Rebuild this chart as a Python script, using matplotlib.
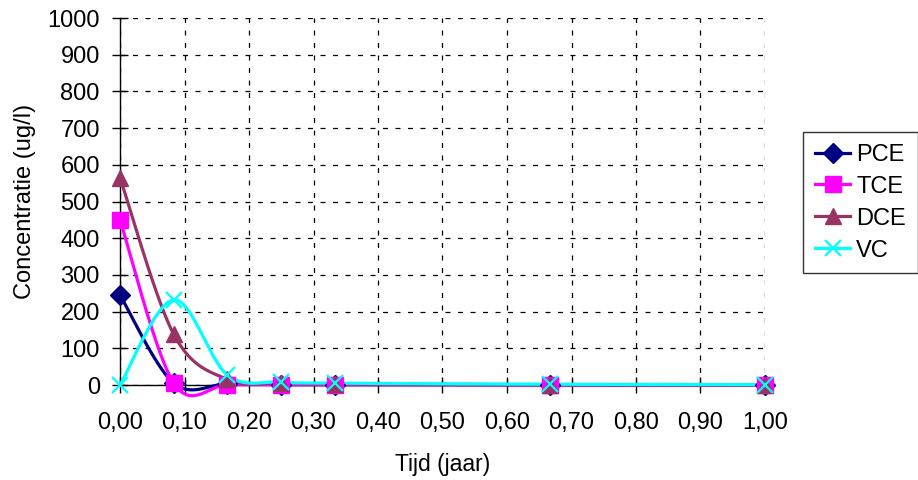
import numpy as np
import matplotlib
matplotlib.use("Agg")
import matplotlib.pyplot as plt
from matplotlib.lines import Line2D

plt.rcParams['font.family'] = ['Liberation Sans', 'DejaVu Sans']

tijd = [0.0, 1/12, 2/12, 3/12, 4/12, 8/12, 1.0]
pce = [245, 5, 3, 1, 1, 0, 0]
tce = [450, 5, 1, 1, 1, 0, 0]
dce = [565, 138, 15, 5, 3, 1, 1]
vc = [0, 232, 27, 8, 5, 2, 1]

series = [
    ("PCE", pce, "#000080", "D", 10),
    ("TCE", tce, "#FF00FF", "s", 11),
    ("DCE", dce, "#993366", "^", 12),
    ("VC", vc, "#00FFFF", "x", 12),
]

FS = 17


def smooth(x, y, n=40):
    x = np.asarray(x, float)
    y = np.asarray(y, float)
    px, py = [], []
    m = len(x)
    for i in range(m - 1):
        x0, y0 = x[max(i - 1, 0)], y[max(i - 1, 0)]
        x1, y1 = x[i], y[i]
        x2, y2 = x[i + 1], y[i + 1]
        x3, y3 = x[min(i + 2, m - 1)], y[min(i + 2, m - 1)]
        c1x = x1 + (x2 - x0) / 6
        c1y = y1 + (y2 - y0) / 6
        c2x = x2 - (x3 - x1) / 6
        c2y = y2 - (y3 - y1) / 6
        t = np.linspace(0, 1, n)
        bx = (1 - t) ** 3 * x1 + 3 * (1 - t) ** 2 * t * c1x + 3 * (1 - t) * t ** 2 * c2x + t ** 3 * x2
        by = (1 - t) ** 3 * y1 + 3 * (1 - t) ** 2 * t * c1y + 3 * (1 - t) * t ** 2 * c2y + t ** 3 * y2
        px.extend(bx)
        py.extend(by)
    return np.array(px), np.array(py)


fig = plt.figure(figsize=(9.18, 4.8), dpi=100)
ax = fig.add_axes([120 / 918, 95 / 480, 645 / 918, 367 / 480])

handles = []
for name, vals, col, mk, ms in series:
    sx, sy = smooth(tijd, vals)
    ax.plot(sx, sy, color=col, lw=2.3, zorder=3, clip_on=False)
    mew = 1.6 if mk == "x" else 1
    ax.plot(tijd, vals, linestyle="none", marker=mk, color=col, markersize=ms,
            markeredgewidth=mew, markeredgecolor=col, zorder=4, clip_on=False)
    handles.append(Line2D([0], [0], color=col, lw=2.3, marker=mk, markersize=ms,
                          markeredgecolor=col, markeredgewidth=mew))

ax.set_xlim(0, 1.0)
ax.set_ylim(0, 1000)
xt = np.arange(0, 1.01, 0.1)
ax.set_xticks(xt)
ax.set_xticklabels([f"{v:.2f}".replace(".", ",") for v in xt])
ax.set_yticks(np.arange(0, 1001, 100))
ax.tick_params(labelsize=FS, direction="inout", length=11, width=1, color="black")
ax.tick_params(axis="x", pad=14)
ax.tick_params(axis="y", pad=9)
ax.grid(True, color="black", linestyle=(0, (4, 6)), linewidth=0.9)
ax.set_axisbelow(True)
for s in ["top", "right"]:
    ax.spines[s].set_visible(False)
for s in ["left", "bottom"]:
    ax.spines[s].set_linewidth(1)
    ax.spines[s].set_color("black")

ax.set_xlabel("Tijd (jaar)", fontsize=16.5, labelpad=13.5)
ax.set_ylabel("Concentratie (ug/l)", fontsize=FS, labelpad=8)

leg = fig.legend(handles, [s[0] for s in series], loc="upper left",
                 bbox_to_anchor=(803 / 918, 1 - 132 / 480), fontsize=FS,
                 frameon=True, fancybox=False, edgecolor="black", handlelength=1.5,
                 handletextpad=0.25, borderpad=0.5, labelspacing=0.42, borderaxespad=0)
leg.get_frame().set_linewidth(1)

fig.savefig("out.png", dpi=100)
